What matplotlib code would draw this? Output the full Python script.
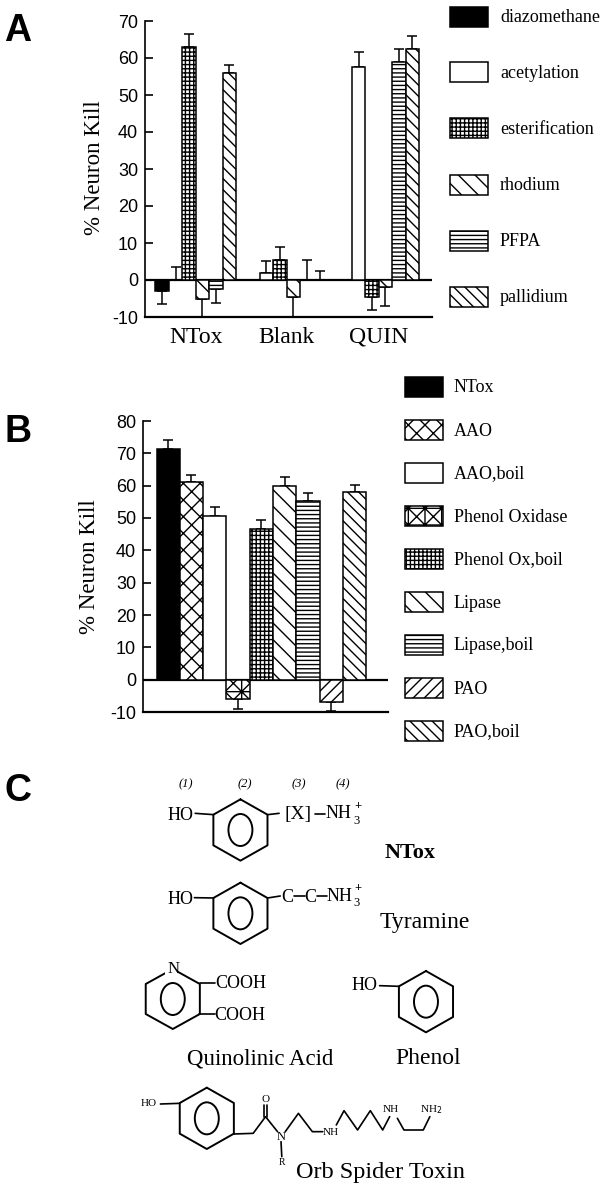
import numpy as np
import matplotlib
matplotlib.use('Agg')
import matplotlib.pyplot as plt
from matplotlib.patches import Rectangle, Ellipse

W, H = 606, 1200
SERIF = 'Liberation Serif'
SANS = 'Liberation Sans'

# panel A data, 0 means no bar drawn above the line
groupsA = ['NTox', 'Blank', 'QUIN']
seriesA = ['diazomethane', 'acetylation', 'esterification', 'rhodium', 'PFPA', 'pallidium']
diazomethane = [-3.0, 0, 0]
acetylation = [0, 2.0, 57.5]
esterification = [63.0, 5.5, -4.5]
rhodium = [-5.0, -4.5, -2.0]
PFPA = [-2.5, 0, 59.0]
pallidium = [56.0, 0, 62.5]
errDiazomethane = [3.5, 0, 0]
errAcetylation = [3.5, 3.2, 4.0]
errEsterification = [3.5, 3.5, 3.5]
errRhodium = [5.0, 5.5, 5.0]
errPFPA = [3.7, 5.5, 3.5]
errPallidium = [2.2, 2.5, 3.5]
hatchA = [None, None, '++++', '\\\\', '----', '\\\\\\']
colorA = ['black', 'white', 'white', 'white', 'white', 'white']

# panel B data
seriesB = ['NTox', 'AAO', 'AAO,boil', 'Phenol Oxidase', 'Phenol Ox,boil', 'Lipase', 'Lipase,boil', 'PAO', 'PAO,boil']
valuesB = [71.2, 61.0, 50.5, -6.0, 46.5, 60.0, 55.2, -7.0, 58.0]
errB = [2.8, 2.2, 2.8, 3.2, 3.0, 2.7, 2.6, 2.7, 2.2]
hatchB = [None, 'xx', None, 'xx+', '++++', '\\\\', '----', '///', '\\\\\\']
colorB = ['black', 'white', 'white', 'white', 'white', 'white', 'white', 'white', 'white']

ticksA = [-10, 0, 10, 20, 30, 40, 50, 60, 70]
ticksB = [-10, 0, 10, 20, 30, 40, 50, 60, 70, 80]

plt.rcParams['hatch.linewidth'] = 1.0
plt.rcParams['axes.unicode_minus'] = False


def pxAxes(fig, left, top, right, bottom):
    return fig.add_axes([left / W, 1 - bottom / H, (right - left) / W, (bottom - top) / H])


def styleAxes(ax, ticks):
    for s in ['top', 'right']:
        ax.spines[s].set_visible(False)
    ax.spines['bottom'].set_linewidth(1.6)
    ax.spines['left'].set_linewidth(1.2)
    ax.axhline(0, color='black', lw=1.6, zorder=1)
    ax.set_yticks(ticks)
    ax.tick_params(axis='y', direction='in', length=6, width=1.2, pad=5, labelsize=13)
    for t in ax.get_yticklabels():
        t.set_fontfamily(SANS)
    ax.patch.set_alpha(0)


def oneSided(values, errs):
    # error bars only point away from the zero line
    low = [e if v < 0 else 0 for v, e in zip(values, errs)]
    up = [e if v >= 0 else 0 for v, e in zip(values, errs)]
    return [low, up]


fig = plt.figure(figsize=(W / 100, H / 100), dpi=100, facecolor='white')

# overlay in pixel coordinates for legends and the structures
ov = fig.add_axes([0, 0, 1, 1])
ov.set_xlim(0, W)
ov.set_ylim(H, 0)
ov.axis('off')

# ---- panel A
axA = pxAxes(fig, 145, 21, 432, 317)
groupStart = [0, 6.77, 13.63]
for i, name in enumerate(seriesA):
    vals = [diazomethane, acetylation, esterification, rhodium, PFPA, pallidium][i]
    errs = [errDiazomethane, errAcetylation, errEsterification, errRhodium, errPFPA, errPallidium][i]
    xs = np.array(groupStart) + i + 0.5
    axA.errorbar(xs, vals, yerr=oneSided(vals, errs), fmt='none', ecolor='black', elinewidth=1.1,
                 capsize=3.5, capthick=1.1, zorder=2)
    axA.bar(xs, vals, width=1.0, color=colorA[i], edgecolor='black', linewidth=1.1,
            hatch=hatchA[i], zorder=3)
axA.set_xlim(-0.78, 20.6)
axA.set_ylim(-10, 70)
styleAxes(axA, ticksA)
axA.set_xticks(np.array(groupStart) + 3)
axA.set_xticklabels(groupsA, fontfamily=SERIF, fontsize=17)
axA.tick_params(axis='x', length=0, pad=7)
axA.set_ylabel('% Neuron Kill', fontfamily=SERIF, fontsize=16.5)
axA.yaxis.set_label_coords(-0.14, 0.505)

# legend A
topsA = [7, 62, 118, 175, 231, 287]
for i, name in enumerate(seriesA):
    ov.add_patch(Rectangle((450, topsA[i]), 38, 20, facecolor=colorA[i], edgecolor='black',
                           linewidth=1.1, hatch=hatchA[i]))
    ov.text(500, topsA[i] + 11, name, family=SERIF, fontsize=13, va='center', ha='left')

# ---- panel B
axB = pxAxes(fig, 143, 421, 388, 712)
xB = np.arange(len(valuesB)) + 0.5
axB.errorbar(xB, valuesB, yerr=oneSided(valuesB, errB), fmt='none', ecolor='black', elinewidth=1.1,
             capsize=3.5, capthick=1.1, zorder=2)
for x, v, c, h in zip(xB, valuesB, colorB, hatchB):
    axB.bar(x, v, width=1.0, color=c, edgecolor='black', linewidth=1.1, hatch=h, zorder=3)
axB.set_xlim(-0.58, 9.93)
axB.set_ylim(-10, 80)
styleAxes(axB, ticksB)
axB.set_xticks([])
axB.set_ylabel('% Neuron Kill', fontfamily=SERIF, fontsize=16.5)
axB.yaxis.set_label_coords(-0.176, 0.5)

# legend B
topsB = [377, 420, 463, 506, 549, 592, 635, 678, 721]
for i, name in enumerate(seriesB):
    ov.add_patch(Rectangle((405, topsB[i]), 38, 20, facecolor=colorB[i], edgecolor='black',
                           linewidth=1.1, hatch=hatchB[i]))
    ov.text(454, topsB[i] + 11, name, family=SERIF, fontsize=13, va='center', ha='left')

# panel letters
for s, y in zip('ABC', [31, 432, 791]):
    ov.text(18, y, s, family=SANS, weight='bold', fontsize=27, ha='center', va='center')


# ---- panel C, traced in zoom units of the crop
def zx(x):
    return x / 2.587


def zy(y):
    return y / 3 + 770


def bond(*pts, lw=1.2):
    ov.plot([zx(p[0]) for p in pts], [zy(p[1]) for p in pts], color='black', lw=lw, solid_capstyle='round')


def ring(cx, cy, hw=70, hh=92, rx=31, ry=48):
    pts = [(cx, cy - hh), (cx + hw, cy - hh / 2), (cx + hw, cy + hh / 2), (cx, cy + hh),
           (cx - hw, cy + hh / 2), (cx - hw, cy - hh / 2), (cx, cy - hh)]
    bond(*pts, lw=1.4)
    ov.add_patch(Ellipse((zx(cx), zy(cy)), 2 * rx / 2.587, 2 * ry / 3, fill=False, edgecolor='black', linewidth=1.4))


def chem(x, y, s, size=12, **kw):
    ov.text(zx(x), zy(y), s, family=SERIF, fontsize=size, ha=kw.pop('ha', 'center'), va='center', **kw)


for x, s in zip([480, 633, 772, 886], ['(1)', '(2)', '(3)', '(4)']):
    chem(x, 43, s, size=9, style='italic')

# NTox
ring(622, 180)
chem(467, 135, 'HO', size=13)
bond((505, 130), (553, 134))
bond((692, 134), (722, 130))
chem(770, 135, '[X]', size=14)
bond((815, 132), (842, 132))
chem(875, 132, 'NH', size=13)
chem(923, 152, '3', size=9)
chem(925, 108, '+', size=9, weight='bold')
chem(1062, 250, 'NTox', size=16, weight='bold')

# Tyramine
ring(622, 430)
chem(467, 388, 'HO', size=13)
bond((503, 383), (553, 384))
bond((692, 384), (725, 378))
chem(742, 382, 'C', size=13)
bond((760, 378), (788, 378))
chem(803, 382, 'C', size=13)
bond((820, 378), (845, 378))
chem(878, 380, 'NH', size=13)
chem(923, 400, '3', size=9)
chem(925, 355, '+', size=9, weight='bold')
chem(1100, 458, 'Tyramine', size=17)

# Quinolinic acid
ring(447, 687, hh=90)
ov.add_patch(Rectangle((zx(428), zy(578)), 12, 13, facecolor='white', edgecolor='none', zorder=3))
chem(450, 598, 'N', size=12, zorder=4)
bond((517, 638), (557, 638))
bond((515, 733), (555, 733))
chem(557, 642, 'COOH', size=13, ha='left')
chem(555, 736, 'COOH', size=13, ha='left')
chem(672, 868, 'Quinolinic Acid', size=16.5)

# Phenol
ring(1102, 695)
chem(944, 647, 'HO', size=13)
bond((982, 647), (1032, 649))
chem(1107, 865, 'Phenol', size=17)

# Orb spider toxin
ring(535, 1045)
chem(384, 1002, 'HO', size=8)
bond((415, 1002), (465, 1000))
bond((605, 1092), (655, 1090), (687, 1040), (718, 1085))
bond((682, 1040), (682, 1005))
bond((692, 1040), (692, 1005))
chem(687, 990, 'O', size=8)
chem(727, 1100, 'N', size=9)
bond((727, 1115), (729, 1160))
chem(729, 1178, 'R', size=7)
bond((738, 1085), (772, 1030), (808, 1085), (835, 1085))
chem(855, 1088, 'NH', size=8)
bond((870, 1065), (890, 1022), (925, 1080), (958, 1022), (990, 1080), (1008, 1040))
chem(1012, 1020, 'NH', size=8)
bond((1028, 1045), (1045, 1080), (1095, 1080), (1112, 1040))
chem(1115, 1018, 'NH$_2$', size=8)
chem(985, 1208, 'Orb Spider Toxin', size=17.5)

fig.savefig('out.png', dpi=100)
